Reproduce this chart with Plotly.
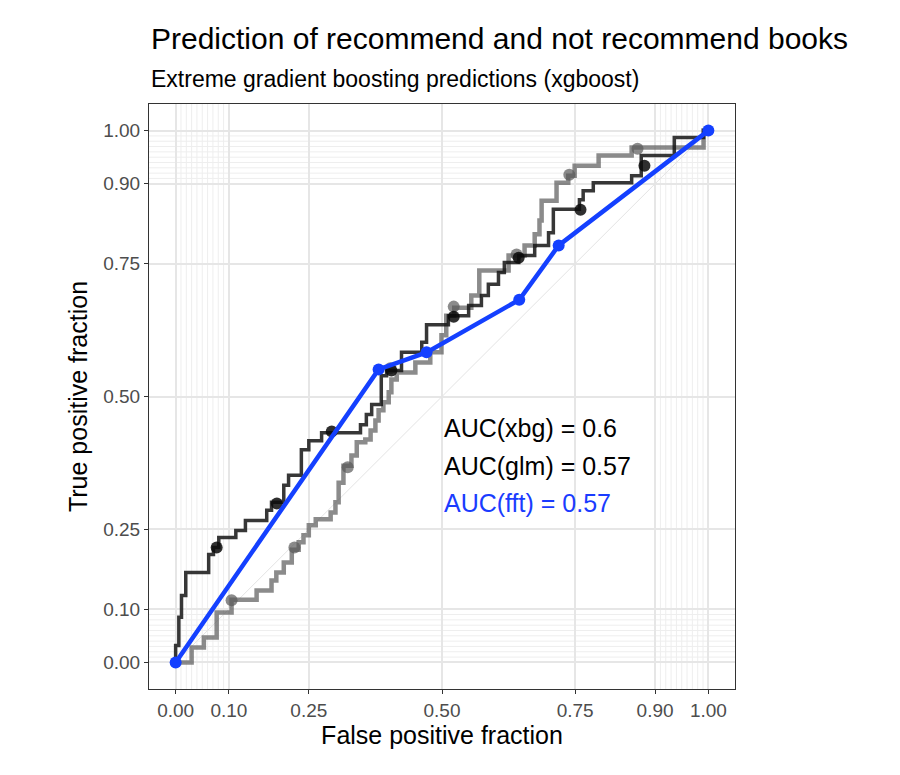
import plotly.graph_objects as go

# ROC curves (false positive fraction, true positive fraction)
xgb_fpf = [0.0, 0.0, 0.006, 0.011, 0.019, 0.062, 0.071, 0.081, 0.113, 0.131, 0.171, 0.180, 0.203, 0.212,
           0.236, 0.250, 0.274, 0.347, 0.358, 0.368, 0.386, 0.396, 0.424, 0.462, 0.471, 0.512, 0.550,
           0.574, 0.587, 0.606, 0.617, 0.644, 0.674, 0.700, 0.709, 0.758, 0.765, 0.784, 0.856, 0.874,
           0.936, 0.991, 1.0]
xgb_tpf = [0.0, 0.032, 0.085, 0.126, 0.169, 0.203, 0.216, 0.235, 0.248, 0.267, 0.286, 0.301, 0.333, 0.352,
           0.400, 0.417, 0.432, 0.447, 0.466, 0.485, 0.539, 0.549, 0.583, 0.602, 0.635, 0.652, 0.671,
           0.690, 0.711, 0.733, 0.752, 0.765, 0.784, 0.808, 0.852, 0.870, 0.887, 0.902, 0.915, 0.953,
           0.987, 1.0, 1.0]
xgb_cut_x = [0.077, 0.19, 0.293, 0.405, 0.522, 0.644, 0.760, 0.880]
xgb_cut_y = [0.216, 0.299, 0.434, 0.549, 0.650, 0.761, 0.851, 0.934]

glm_fpf = [0.0, 0.030, 0.053, 0.077, 0.105, 0.152, 0.180, 0.189, 0.203, 0.218, 0.231, 0.240, 0.250, 0.263,
           0.291, 0.300, 0.306, 0.315, 0.330, 0.340, 0.356, 0.366, 0.375, 0.381, 0.390, 0.400, 0.405,
           0.415, 0.450, 0.478, 0.499, 0.508, 0.523, 0.555, 0.570, 0.625, 0.655, 0.674, 0.683, 0.687,
           0.715, 0.737, 0.749, 0.794, 0.856, 0.991, 1.0]
glm_tpf = [0.0, 0.028, 0.047, 0.094, 0.118, 0.135, 0.154, 0.169, 0.188, 0.212, 0.226, 0.239, 0.258, 0.269,
           0.282, 0.301, 0.338, 0.370, 0.389, 0.414, 0.419, 0.436, 0.455, 0.474, 0.489, 0.508, 0.532,
           0.545, 0.564, 0.583, 0.615, 0.652, 0.667, 0.690, 0.737, 0.765, 0.784, 0.805, 0.831, 0.868,
           0.902, 0.915, 0.934, 0.953, 0.968, 1.0, 1.0]
glm_cut_x = [0.105, 0.223, 0.323, 0.403, 0.522, 0.640, 0.739, 0.867]
glm_cut_y = [0.117, 0.216, 0.367, 0.553, 0.669, 0.767, 0.917, 0.966]

fft_fpf = [0.0, 0.381, 0.471, 0.645, 0.719, 1.0]
fft_tpf = [0.0, 0.551, 0.583, 0.682, 0.784, 1.0]

major_breaks = [0, 0.1, 0.25, 0.5, 0.75, 0.9, 1]
major_labels = ["0.00", "0.10", "0.25", "0.50", "0.75", "0.90", "1.00"]
minor_breaks = [i / 100 for i in range(0, 11)] + [i / 100 for i in range(90, 101)]

auc_labels = ["AUC(xbg) = 0.6", "AUC(glm) = 0.57", "AUC(fft) = 0.57"]
auc_y = [0.44, 0.37, 0.30]
auc_colors = ["black", "black", "#1a3cff"]

fig = go.Figure()

# chance line
fig.add_trace(go.Scatter(x=[0, 1], y=[0, 1], mode="lines", line=dict(color="#e3e3e3", width=1)))

fig.add_trace(go.Scatter(x=glm_fpf, y=glm_tpf, mode="lines", line_shape="hv",
                         line=dict(color="rgba(90,90,90,0.7)", width=4.5)))
fig.add_trace(go.Scatter(x=glm_cut_x, y=glm_cut_y, mode="markers",
                         marker=dict(color="rgba(90,90,90,0.7)", size=12)))
fig.add_trace(go.Scatter(x=xgb_fpf, y=xgb_tpf, mode="lines", line_shape="hv",
                         line=dict(color="rgba(20,20,20,0.85)", width=3.5)))
fig.add_trace(go.Scatter(x=xgb_cut_x, y=xgb_cut_y, mode="markers",
                         marker=dict(color="rgba(10,10,10,0.85)", size=12)))
fig.add_trace(go.Scatter(x=fft_fpf, y=fft_tpf, mode="lines+markers",
                         line=dict(color="#1440ff", width=4.5), marker=dict(color="#1440ff", size=12)))

# minor grid lines (plotROC style)
for v in minor_breaks:
    fig.add_shape(type="line", xref="x", yref="paper", x0=v, x1=v, y0=0, y1=1,
                  line=dict(color="#eeeeee", width=1), layer="below")
    fig.add_shape(type="line", xref="paper", yref="y", x0=0, x1=1, y0=v, y1=v,
                  line=dict(color="#eeeeee", width=1), layer="below")

for lab, yy, col in zip(auc_labels, auc_y, auc_colors):
    fig.add_annotation(x=0.5, y=yy, text=lab, showarrow=False, xanchor="left",
                       font=dict(size=25, color=col))

fig.add_annotation(xref="paper", yref="paper", x=0, y=1.112, xanchor="left", yanchor="middle",
                   text="Prediction of recommend and not recommend books", showarrow=False,
                   font=dict(size=30, color="black"))
fig.add_annotation(xref="paper", yref="paper", x=0, y=1.043, xanchor="left", yanchor="middle",
                   text="Extreme gradient boosting predictions (xgboost)", showarrow=False,
                   font=dict(size=23, color="black"))

axis_style = dict(range=[-0.05, 1.05], tickvals=major_breaks, ticktext=major_labels,
                  showgrid=True, gridcolor="#e6e6e6", gridwidth=1.5, zeroline=False,
                  showline=True, linecolor="#333333", linewidth=1, mirror=True,
                  ticks="outside", ticklen=4, tickcolor="#333333",
                  tickfont=dict(size=19, color="#4d4d4d"))

fig.update_layout(
    width=900, height=775,
    margin=dict(l=141, r=173, t=96, b=94),
    plot_bgcolor="white", paper_bgcolor="white",
    showlegend=False,
    font=dict(family="Liberation Sans, Arial, sans-serif", color="black"),
    xaxis=dict(axis_style, title=dict(text="False positive fraction", font=dict(size=25), standoff=4)),
    yaxis=dict(axis_style, title=dict(text="True positive fraction", font=dict(size=25), standoff=8)),
)

fig.write_html("out.html")
